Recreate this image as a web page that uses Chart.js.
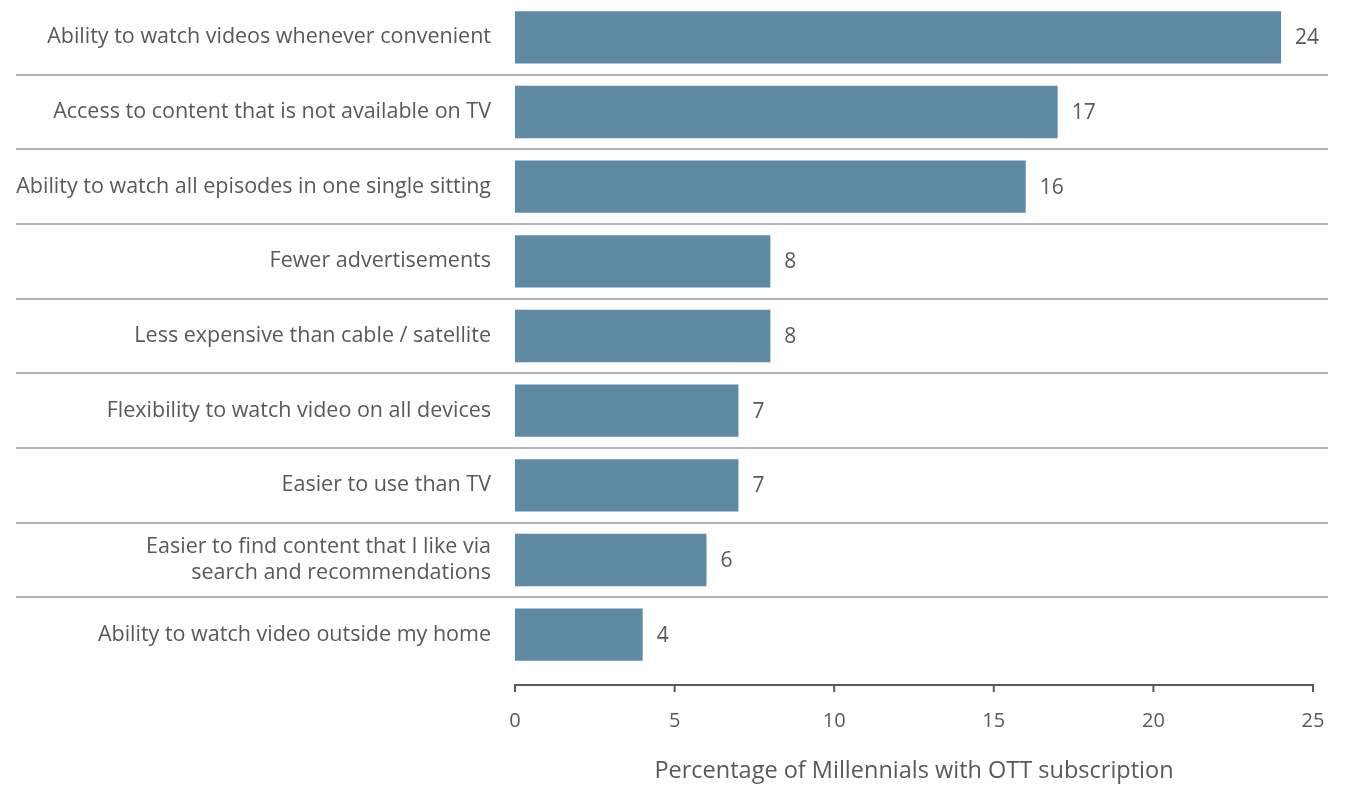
<!DOCTYPE html>
<html>
<head>
<meta charset="utf-8">
<script src="https://cdn.jsdelivr.net/npm/chart.js@4"></script>
<style>
  html, body { margin: 0; padding: 0; background: #ffffff; }
  #wrap { width: 1351px; height: 785px; position: relative; }
</style>
</head>
<body>
<div id="wrap"><canvas id="chart"></canvas></div>
<script>
// Reasons given by millennials for subscribing to OTT services
const categories = [
  'Ability to watch videos whenever convenient',
  'Access to content that is not available on TV',
  'Ability to watch all episodes in one single sitting',
  'Fewer advertisements',
  'Less expensive than cable / satellite',
  'Flexibility to watch video on all devices',
  'Easier to use than TV',
  ['Easier to find content that I like via', 'search and recommendations'],
  'Ability to watch video outside my home'
];
const shares = [24, 17, 16, 8, 8, 7, 7, 6, 4];
const xTicks = [0, 5, 10, 15, 20, 25];
const xTitle = 'Percentage of Millennials with OTT subscription';

const FONT = "'Open Sans', 'Noto Sans', sans-serif";
const TEXT = '#595959';
const BAR = '#5e8aa4';

// Separator lines between categories, the detached x axis line and value labels
const decorations = {
  id: 'decorations',
  afterDatasetsDraw(chart) {
    const { ctx, chartArea, scales } = chart;
    const y = scales.y, x = scales.x;
    ctx.save();
    // category separators
    ctx.strokeStyle = '#b5b5b5';
    ctx.lineWidth = 2;
    for (let i = 0; i < categories.length - 1; i++) {
      const py = Math.round((y.getPixelForValue(i) + y.getPixelForValue(i + 1)) / 2);
      ctx.beginPath();
      ctx.moveTo(16, py);
      ctx.lineTo(1328, py);
      ctx.stroke();
    }
    // x axis line with downward tick marks
    const axisY = chartArea.bottom + 13;
    ctx.strokeStyle = '#595959';
    ctx.lineWidth = 2;
    ctx.beginPath();
    ctx.moveTo(x.getPixelForValue(xTicks[0]), axisY);
    ctx.lineTo(x.getPixelForValue(xTicks[xTicks.length - 1]), axisY);
    ctx.stroke();
    xTicks.forEach(t => {
      const px = x.getPixelForValue(t);
      ctx.beginPath();
      ctx.moveTo(px, axisY - 1);
      ctx.lineTo(px, axisY + 7);
      ctx.stroke();
    });
    // value labels at the bar ends
    const meta = chart.getDatasetMeta(0);
    ctx.fillStyle = TEXT;
    ctx.font = '21px ' + FONT;
    ctx.textAlign = 'left';
    ctx.textBaseline = 'middle';
    meta.data.forEach((bar, i) => {
      ctx.fillText(String(shares[i]), bar.x + 14, bar.y + 1);
    });
    ctx.restore();
  }
};

new Chart(document.getElementById('chart'), {
  type: 'bar',
  data: {
    labels: categories,
    datasets: [{
      data: shares,
      backgroundColor: BAR,
      borderWidth: 0,
      categoryPercentage: 1,
      barPercentage: 0.7
    }]
  },
  options: {
    indexAxis: 'y',
    responsive: true,
    maintainAspectRatio: false,
    animation: false,
    layout: { padding: { left: 0, right: 38, top: 0, bottom: 0 } },
    plugins: { legend: { display: false }, tooltip: { enabled: false } },
    scales: {
      x: {
        type: 'linear',
        min: 0,
        max: 25,
        afterBuildTicks(scale) { scale.ticks = xTicks.map(v => ({ value: v })); },
        afterFit(scale) {
          scale.height = 113;
          scale.paddingLeft = 0;
          scale.paddingRight = 0;
        },
        border: { display: false },
        grid: { display: false, drawTicks: false },
        ticks: {
          padding: 37,
          color: TEXT,
          font: { family: FONT, size: 20 },
          maxRotation: 0
        },
        title: {
          display: true,
          text: xTitle,
          color: TEXT,
          font: { family: FONT, size: 23.5 },
          padding: { top: 18, bottom: 0 }
        }
      },
      y: {
        type: 'category',
        afterFit(scale) {
          scale.width = 515;
          scale.paddingTop = 0;
          scale.paddingBottom = 0;
        },
        border: { display: false },
        grid: { display: false, drawTicks: false },
        ticks: {
          padding: 24,
          color: TEXT,
          font: { family: FONT, size: 21.5, lineHeight: 1.22 }
        }
      }
    }
  },
  plugins: [decorations]
});
</script>
</body>
</html>
